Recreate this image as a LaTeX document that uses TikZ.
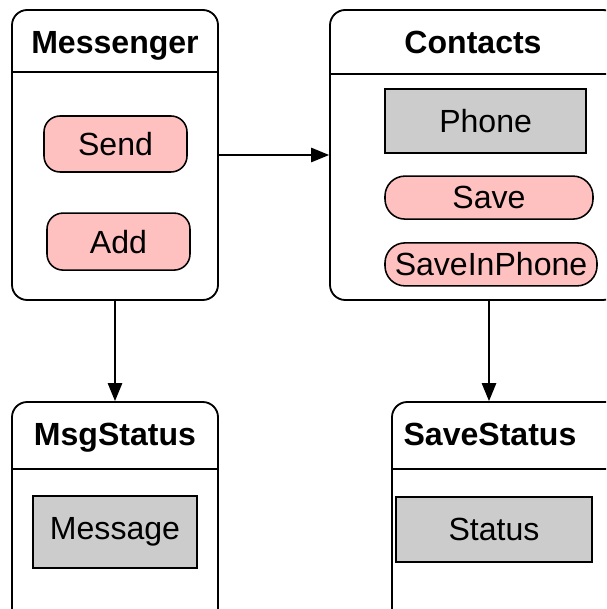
\documentclass[tikz,border=0pt]{standalone}
\usepackage{fontspec}
\setmainfont{Liberation Sans}
\usepackage{tikz}
\usetikzlibrary{arrows.meta, positioning, calc}

\definecolor{pillpink}{HTML}{FFC0C0}
\definecolor{boxgray}{HTML}{CCCCCC}

\begin{document}
\begin{tikzpicture}[
        container/.style={rectangle, draw=black, fill=white, line width=1.3pt, rounded corners=0.38cm, inner sep=0pt},
        title/.style={font=\fontsize{22.8}{27}\selectfont\bfseries, inner sep=0pt, anchor=base},
        method/.style={rectangle, draw=black, fill=pillpink, line width=1.1pt, rounded corners=0.4cm, inner sep=0pt, font=\fontsize{22.8}{27}\selectfont},
        field/.style={rectangle, draw=black, fill=boxgray, line width=1.1pt, inner sep=0pt, font=\fontsize{22.8}{27}\selectfont},
        arr/.style={-{Triangle[length=0.45cm, width=0.36cm]}, line width=1.1pt}
    ]
        \useasboundingbox (0,0) rectangle (15.15,-15.225);
        \fill[white] (0,0) rectangle (15.15,-15.225);
        \clip (0,0) rectangle (15.15,-15.225);

        % containers
        \node[container, minimum width=7.2cm, minimum height=7.25cm] (contacts) at (11.85,-3.875) {};
        \node[container, minimum width=5.8cm, minimum height=5.95cm] (savestat) at (12.7,-13.025) {};
        \node[container, minimum width=5.15cm, minimum height=7.25cm] (msgr) at (2.875,-3.875) {};
        \node[container, minimum width=5.15cm, minimum height=5.95cm] (msgstat) at (2.875,-13.025) {};

        % header lines
        \draw[line width=1.1pt] ([yshift=-1.575cm]msgr.north west) -- ([yshift=-1.575cm]msgr.north east);
        \draw[line width=1.1pt] ([yshift=-1.625cm]contacts.north west) -- ([yshift=-1.625cm]contacts.north east);
        \draw[line width=1.1pt] ([yshift=-1.7cm]msgstat.north west) -- ([yshift=-1.7cm]msgstat.north east);
        \draw[line width=1.1pt] ([yshift=-1.7cm]savestat.north west) -- ([yshift=-1.7cm]savestat.north east);

        % titles
        \node[title] (msgrtitle) at (2.875,-1.35) {Messenger};
        \node[title] (contactstitle) at (11.825,-1.33) {Contacts};
        \node[title] (msgstattitle) at (2.875,-11.125) {MsgStatus};
        \node[title] (savestattitle) at (12.25,-11.125) {SaveStatus};

        % members
        \node[method, minimum width=3.575cm, minimum height=1.4cm] (send) at (2.8875,-3.6) {Send};
        \node[method, minimum width=3.575cm, minimum height=1.425cm] (add) at (2.9625,-6.04) {Add};
        \node[field, minimum width=5.025cm, minimum height=1.6cm] (phone) at (12.14,-3.025) {Phone};
        \node[method, minimum width=5.2cm, minimum height=1.075cm, rounded corners=0.5cm] (save) at (12.225,-4.94) {Save};
        \node[method, minimum width=5.3cm, minimum height=1.075cm, rounded corners=0.5cm] (saveinphone) at (12.275,-6.61) {SaveInPhone};
        \node[field, minimum width=4.1cm, minimum height=1.8cm] (message) at (2.875,-13.3) {Message};
        \node[field, minimum width=4.9cm, minimum height=1.625cm] (status) at (12.35,-13.24) {Status};

        % connectors
        \draw[arr] (msgr.east) -- (contacts.west);
        \draw[arr] (msgr.south) -- (msgstat.north);
        \draw[arr] (12.225,0 |- contacts.south) -- (12.225,0 |- savestat.north);
    \end{tikzpicture}
\end{document}
